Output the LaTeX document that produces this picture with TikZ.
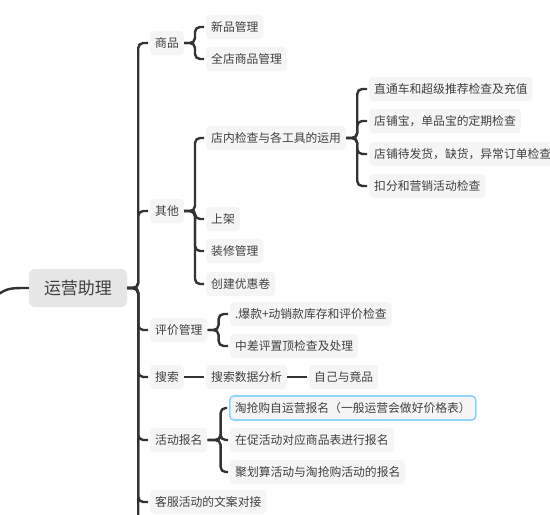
\documentclass[tikz,border=0pt]{standalone}
\usepackage{fontspec}
\newfontfamily\cjk{Noto Sans CJK SC}
\definecolor{boxfill}{HTML}{F5F5F5}
\definecolor{rootfill}{HTML}{E6E6E6}
\definecolor{ln}{HTML}{333333}
\definecolor{txt}{HTML}{404040}
\definecolor{sel}{HTML}{8ED4F6}
\begin{document}
\begin{tikzpicture}[x=1pt,y=-1pt,
  box/.style={fill=boxfill, rounded corners=4pt, minimum height=24pt, inner xsep=5pt, inner ysep=0pt, anchor=west, text=txt, font=\cjk\fontsize{11.8}{13}\selectfont},
  rootbox/.style={fill=rootfill, rounded corners=6pt, minimum width=98pt, minimum height=38pt, inner sep=0pt, text=txt, font=\cjk\fontsize{17}{19}\selectfont},
  selbox/.style={box, draw=sel, line width=1.6pt},
  conn/.style={draw=ln, line width=2.4pt, rounded corners=5pt, shorten >=2pt}]
\clip (0,0) rectangle (550,515);
\fill[white] (0,0) rectangle (550,515);
% nodes
\node[rootbox] (root) at (78,288) {运营助理};
\node[box] (sp) at (150,43) {商品};
\node[box] (xp) at (206,27) {新品管理};
\node[box] (qd) at (206,59) {全店商品管理};
\node[box] (qt) at (150,211) {其他};
\node[box] (dn) at (206,138) {店内检查与各工具的运用};
\node[box] (z1) at (369,89) {直通车和超级推荐检查及充值};
\node[box] (z2) at (369,121) {店铺宝，单品宝的定期检查};
\node[box] (z3) at (369,154) {店铺待发货，缺货，异常订单检查};
\node[box] (z4) at (369,186) {扣分和营销活动检查};
\node[box] (sj) at (206,219) {上架};
\node[box] (zx) at (206,251) {装修管理};
\node[box] (cj) at (206,284) {创建优惠卷};
\node[box] (pj) at (150,330) {评价管理};
\node[box] (b1) at (230,314) {.爆款+动销款库存和评价检查};
\node[box] (b2) at (230,346) {中差评置顶检查及处理};
\node[box] (ss) at (150,377) {搜索};
\node[box] (sd) at (206,377) {搜索数据分析};
\node[box] (zj) at (309,377) {自己与竟品};
\node[box] (hd) at (150,440) {活动报名};
\node[selbox] (h1) at (229,408) {淘抢购自运营报名（一般运营会做好价格表）};
\node[box] (h2) at (230,440) {在促活动对应商品表进行报名};
\node[box] (h3) at (230,472) {聚划算活动与淘抢购活动的报名};
\node[box] (kf) at (150,502) {客服活动的文案对接};
\coordinate (par) at (-6,297);
\coordinate (more) at (150,545);
% connectors
\draw[conn, shorten >=0pt] (par) .. controls (8,288) .. (root.west);
\foreach \c in {sp,qt,pj,ss,hd,kf,more}
  \draw[conn] (root.east) -- ++(11,0) |- (\c.west);
\foreach \c in {xp,qd}
  \draw[conn] (sp.east) -- ++(11,0) |- (\c.west);
\foreach \c in {dn,sj,zx,cj}
  \draw[conn] (qt.east) -- ++(11,0) |- (\c.west);
\foreach \c in {z1,z2,z3,z4}
  \draw[conn] (dn.east) -- ++(11,0) |- (\c.west);
\foreach \c in {b1,b2}
  \draw[conn] (pj.east) -- ++(11,0) |- (\c.west);
\draw[conn] (ss.east) -- (sd.west);
\draw[conn] (sd.east) -- (zj.west);
\foreach \c in {h1,h2,h3}
  \draw[conn] (hd.east) -- ++(13,0) |- (\c.west);
\end{tikzpicture}
\end{document}
